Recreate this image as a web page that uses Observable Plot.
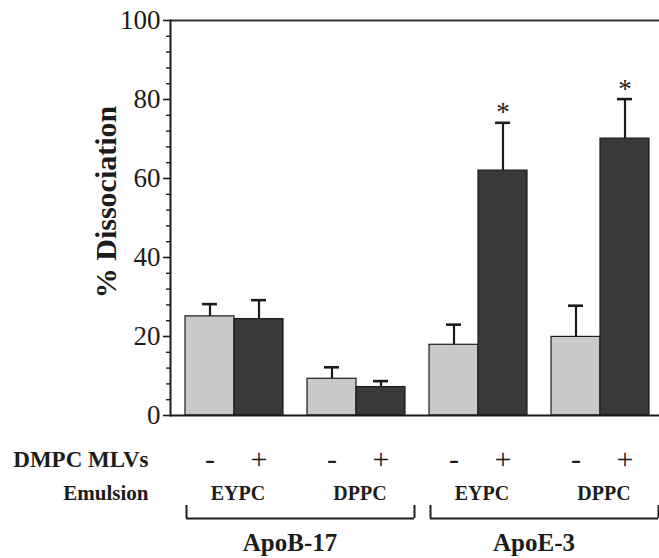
<!DOCTYPE html>
<html><head><meta charset="utf-8">
<script src="https://cdn.jsdelivr.net/npm/d3@7"></script>
<script src="https://cdn.jsdelivr.net/npm/@observablehq/plot@0.6"></script>
<style>html,body{margin:0;padding:0;background:#fff} svg{display:block}</style>
</head><body><div id="chart"></div>
<script>
// ---- data ----
const apo = ["ApoB-17","ApoB-17","ApoB-17","ApoB-17","ApoE-3","ApoE-3","ApoE-3","ApoE-3"];
const emulsion = ["EYPC","EYPC","DPPC","DPPC","EYPC","EYPC","DPPC","DPPC"];
const dmpc = ["-","+","-","+","-","+","-","+"];
const dissociation = [25.1, 24.4, 9.3, 7.2, 17.9, 62.0, 19.9, 70.1];
const errorUp = [3.1, 4.8, 2.9, 1.5, 5.1, 12.1, 7.9, 10.0];
const significant = [false, false, false, false, false, true, false, true];
const yTicks = [0, 20, 40, 60, 80, 100];
const yMinorTicks = [4, 8, 12, 16, 24, 28, 32, 36, 44, 48, 52, 56, 64, 68, 72, 76, 84, 88, 92, 96];
const yTitle = "% Dissociation";
const rowTitles = ["DMPC MLVs", "Emulsion"];

// ---- build table ----
const rows = dissociation.map((value, i) => ({
  key: apo[i] + "|" + emulsion[i] + "|" + dmpc[i],
  apo: apo[i], emulsion: emulsion[i], dmpc: dmpc[i],
  value, top: value + errorUp[i], sig: significant[i]
}));
const keys = rows.map(d => d.key);
const apoGroups = [...new Set(apo)].map(a => {
  const g = rows.filter(d => d.apo === a);
  return {apo: a, from: g[0].key, to: g[g.length - 1].key, mid: g[2].key};
});

const light = "#c9c9c9", dark = "#393939", ink = "#1c1c1c";
const serif = "'Liberation Serif', 'Times New Roman', serif";

const marks = [];
// frame lines
marks.push(Plot.ruleY([100], {stroke: "#333", strokeWidth: 1.8}));
marks.push(Plot.frame({anchor: "left", stroke: ink, strokeWidth: 2}));
// axes
marks.push(Plot.axisY(yMinorTicks, {tickSize: 4, tickFormat: () => "", stroke: ink, strokeWidth: 1.4, label: null}));
marks.push(Plot.axisY(yTicks, {tickSize: 7, tickPadding: 3, stroke: ink, strokeWidth: 1.6, fontSize: 27, fill: ink, label: null}));

for (const s of ["-", "+"]) {
  const sub = rows.filter(d => d.dmpc === s);
  const dx = s === "-" ? 6 : -6;
  marks.push(Plot.ruleX(sub, {x: "key", y1: "value", y2: "top", dx, stroke: ink, strokeWidth: 2.2}));
  marks.push(Plot.tickY(sub, {x: "key", y: "top", dx, insetLeft: 23, insetRight: 23, stroke: ink, strokeWidth: 2.6}));
  marks.push(Plot.barY(sub, {x: "key", y: "value", insetLeft: 6, insetRight: 6, dx, fill: s === "-" ? light : dark, stroke: ink, strokeWidth: 1.2}));
  marks.push(Plot.text(sub.filter(d => d.sig), {x: "key", y: "top", dx, dy: -10, text: () => "*", fontSize: 27, fill: ink}));
  marks.push(Plot.text(sub, {x: "key", text: "dmpc", frameAnchor: "bottom", lineAnchor: "middle", textAnchor: "middle", dx, dy: 44, fontSize: 30, fill: ink}));
}
// emulsion labels (centered on each pair)
marks.push(Plot.text(rows.filter(d => d.dmpc === "-"), {x: "key", text: "emulsion", frameAnchor: "bottom", lineAnchor: "middle", textAnchor: "middle", dx: 34, dy: 78, fontSize: 20, fontWeight: "bold", fill: ink}));
// brackets
marks.push(Plot.ruleY(apoGroups, {x1: "from", x2: "to", y: () => 0, dy: 103, insetLeft: 13, insetRight: 3, stroke: ink, strokeWidth: 2}));
marks.push(Plot.ruleX(apoGroups, {x: "from", y1: () => 0, y2: () => 0, insetTop: -13, dx: -17.5, dy: 103, stroke: ink, strokeWidth: 2}));
marks.push(Plot.ruleX(apoGroups, {x: "to", y1: () => 0, y2: () => 0, insetTop: -13, dx: 27.5, dy: 103, stroke: ink, strokeWidth: 2}));
marks.push(Plot.text(apoGroups, {x: "mid", text: "apo", frameAnchor: "bottom", lineAnchor: "middle", textAnchor: "middle", dx: -36, dy: 127, fontSize: 25, fontWeight: "bold", fill: ink}));
// bottom axis line
marks.push(Plot.ruleY([0], {stroke: ink, strokeWidth: 2}));
// titles
marks.push(Plot.text([yTitle], {frameAnchor: "left", textAnchor: "middle", lineAnchor: "middle", dx: -64, dy: -16, rotate: -90, fontSize: 30, fontWeight: "bold", fill: ink}));
marks.push(Plot.text([rowTitles[0]], {frameAnchor: "bottom-left", lineAnchor: "middle", textAnchor: "end", dx: -22, dy: 44, fontSize: 23, fontWeight: "bold", fill: ink}));
marks.push(Plot.text([rowTitles[1]], {frameAnchor: "bottom-left", lineAnchor: "middle", textAnchor: "end", dx: -22, dy: 78, fontSize: 21, fontWeight: "bold", fill: ink}));

const chart = Plot.plot({
  width: 659, height: 558,
  marginLeft: 170, marginRight: 0, marginTop: 20, marginBottom: 143,
  style: {fontFamily: serif, background: "#fff", color: ink, overflow: "visible"},
  x: {domain: keys, range: [172, 661], padding: 0, axis: null},
  y: {domain: [0, 100], axis: null},
  marks
});
document.getElementById("chart").appendChild(chart);
</script>
</body></html>
